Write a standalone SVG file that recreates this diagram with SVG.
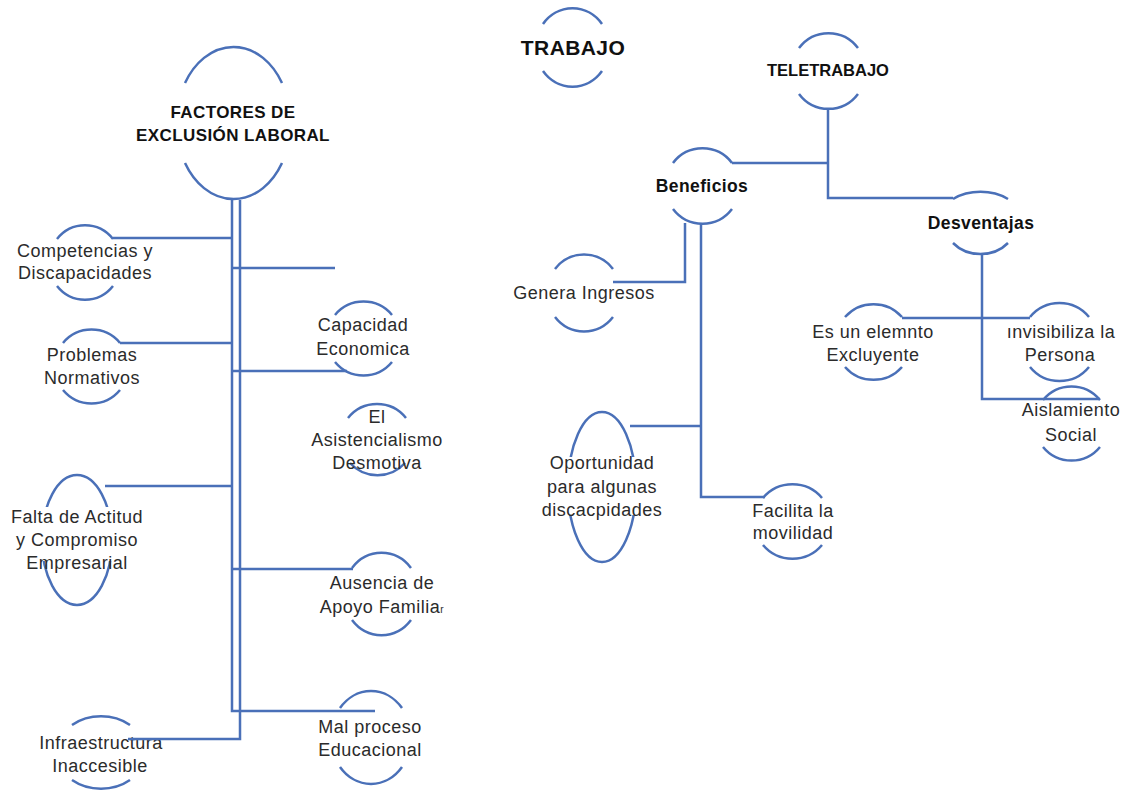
<svg xmlns="http://www.w3.org/2000/svg" width="1126" height="792" viewBox="0 0 1126 792">
<style>
.arc{fill:none;stroke:#4A70B8;stroke-width:2.5}
.ell{fill:none;stroke:#4A70B8;stroke-width:2.5}
.cn{fill:none;stroke:#4A70B8;stroke-width:2.5}
.mask{fill:#fff;stroke:none}
.t{font-family:"Liberation Sans",Arial,sans-serif;font-size:18px;letter-spacing:0.5px;fill:#2b2b2b;text-anchor:middle}
.b{font-family:"Liberation Sans",Arial,sans-serif;font-weight:bold;font-size:17.5px;letter-spacing:0.4px;fill:#111;text-anchor:middle}
</style>
<rect width="1126" height="792" fill="#fff"/>

<g id="n-factores">
<path class="arc" d="M185,83 A57,76 0 0 1 282,83 M185,163 A57,76 0 0 0 282,163"/>
<text class="b" style="font-size:17px" x="233" y="118">FACTORES DE</text>
<text class="b" style="font-size:17px" x="233" y="141">EXCLUSIÓN LABORAL</text>
</g>

<g id="n-competencias">
<path class="arc" d="M57,239 A36,37 0 0 1 113,239 M57,286 A36,37 0 0 0 113,286"/>
<text class="t" x="85" y="257">Competencias y</text>
<text class="t" x="85" y="279">Discapacidades</text>
</g>

<g id="n-problemas">
<path class="arc" d="M63,343 A37,37 0 0 1 120,343 M63,390 A37,37 0 0 0 120,390"/>
<text class="t" x="92" y="361">Problemas</text>
<text class="t" x="92" y="384">Normativos</text>
</g>

<g id="n-capacidad">
<path class="arc" d="M335,315 A37,37 0 0 1 392,315 M335,362 A37,37 0 0 0 392,362"/>
<text class="t" x="363" y="331">Capacidad</text>
<text class="t" x="363" y="355">Economica</text>
</g>

<g id="n-asistencialismo">
<path class="arc" d="M348,418 A37,37 0 0 1 406,418 M350,463 A37,37 0 0 0 405,463"/>
<text class="t" x="377" y="423">El</text>
<text class="t" x="377" y="446">Asistencialismo</text>
<text class="t" x="377" y="469">Desmotiva</text>
</g>

<g id="n-falta">
<ellipse class="ell" cx="77" cy="540" rx="35" ry="65"/>
<rect class="mask" x="30" y="507" width="95" height="54"/>
<text class="t" x="77" y="523">Falta de Actitud</text>
<text class="t" x="77" y="546">y Compromiso</text>
<text class="t" x="77" y="569">Empresarial</text>
</g>

<g id="n-ausencia">
<path class="arc" d="M352,568 A38,41 0 0 1 411,568 M352,620 A38,41 0 0 0 411,620"/>
<text class="t" x="382" y="589">Ausencia de</text>
<text class="t" x="382" y="613">Apoyo Familia<tspan style="font-size:10px">r</tspan></text>
</g>

<g id="n-mal">
<path class="arc" d="M340,708 A40,46 0 0 1 402,708 M340,767 A40,46 0 0 0 402,767"/>
<text class="t" x="370" y="733">Mal proceso</text>
<text class="t" x="370" y="756">Educacional</text>
</g>

<g id="n-infra">
<path class="arc" d="M72,725 A45,37 0 0 1 130,725 M72,780 A45,37 0 0 0 130,780"/>
<text class="t" x="101" y="749">Infraestructura</text>
<text class="t" x="100" y="772">Inaccesible</text>
</g>

<g id="n-trabajo">
<path class="arc" d="M543,24 A37,39.5 0 0 1 602,24 M543,71 A37,39.5 0 0 0 602,71"/>
<text class="b" style="font-size:21px" x="573" y="55">TRABAJO</text>
</g>

<g id="n-teletrabajo">
<path class="arc" d="M799,48 A37,37.5 0 0 1 858,48 M799,94 A37,37.5 0 0 0 858,94"/>
<text class="b" style="font-size:16.5px;letter-spacing:0" x="828" y="76">TELETRABAJO</text>
</g>

<g id="n-beneficios">
<path class="arc" d="M673,163 A37,37 0 0 1 732,163 M673,209 A37,37 0 0 0 732,209"/>
<text class="b" x="702" y="192">Beneficios</text>
</g>

<g id="n-genera">
<path class="arc" d="M555,269 A37,38 0 0 1 613,269 M555,317 A37,38 0 0 0 613,317"/>
<text class="t" x="584" y="299">Genera Ingresos</text>
</g>

<g id="n-oportunidad">
<ellipse class="ell" cx="602" cy="487" rx="34" ry="75"/>
<rect class="mask" x="560" y="457" width="85" height="58"/>
<text class="t" x="602" y="469">Oportunidad</text>
<text class="t" x="602" y="493">para algunas</text>
<text class="t" x="602" y="516">discacpidades</text>
</g>

<g id="n-facilita">
<path class="arc" d="M763,498 A38,37 0 0 1 822,498 M763,545 A38,37 0 0 0 822,545"/>
<text class="t" x="793" y="517">Facilita la</text>
<text class="t" x="793" y="539">movilidad</text>
</g>

<g id="n-desventajas">
<path class="arc" d="M953,199 A43,31 0 0 1 1008,199 M953,243 A36,31 0 0 0 1008,243"/>
<text class="b" x="981" y="229">Desventajas</text>
</g>

<g id="n-excluyente">
<path class="arc" d="M845,317 A38,38 0 0 1 902,317 M845,367 A38,38 0 0 0 902,367"/>
<text class="t" x="873" y="338">Es un elemnto</text>
<text class="t" x="873" y="361">Excluyente</text>
</g>

<g id="n-invisibiliza">
<path class="arc" d="M1030,317 A38,38 0 0 1 1089,317 M1030,367 A38,38 0 0 0 1089,367"/>
<text class="t" x="1061" y="338">ınvisibiliza la</text>
<text class="t" x="1060" y="361">Persona</text>
</g>

<g id="n-aislamiento">
<path class="arc" d="M1043,400 A37,37.5 0 0 1 1100,400 M1043,447 A37,37.5 0 0 0 1100,447"/>
<text class="t" x="1071" y="416">Aislamiento</text>
<text class="t" x="1071" y="441">Social</text>
</g>

<g id="connectors">
<path class="cn" d="M232,200 V711 H375"/>
<path class="cn" d="M240,200 V739 H128"/>
<path class="cn" d="M113,238 H232"/>
<path class="cn" d="M232,268 H335"/>
<path class="cn" d="M120,343 H232"/>
<path class="cn" d="M232,371 H347"/>
<path class="cn" d="M105,486 H232"/>
<path class="cn" d="M232,569 H353"/>
<path class="cn" d="M828,108 V198 H953"/>
<path class="cn" d="M732,163 H828"/>
<path class="cn" d="M685,223 V282 H613"/>
<path class="cn" d="M701,223 V497 H765"/>
<path class="cn" d="M630,426 H701"/>
<path class="cn" d="M982,254 V399 H1100"/>
<path class="cn" d="M902,318 H1030"/>
</g>
</svg>
